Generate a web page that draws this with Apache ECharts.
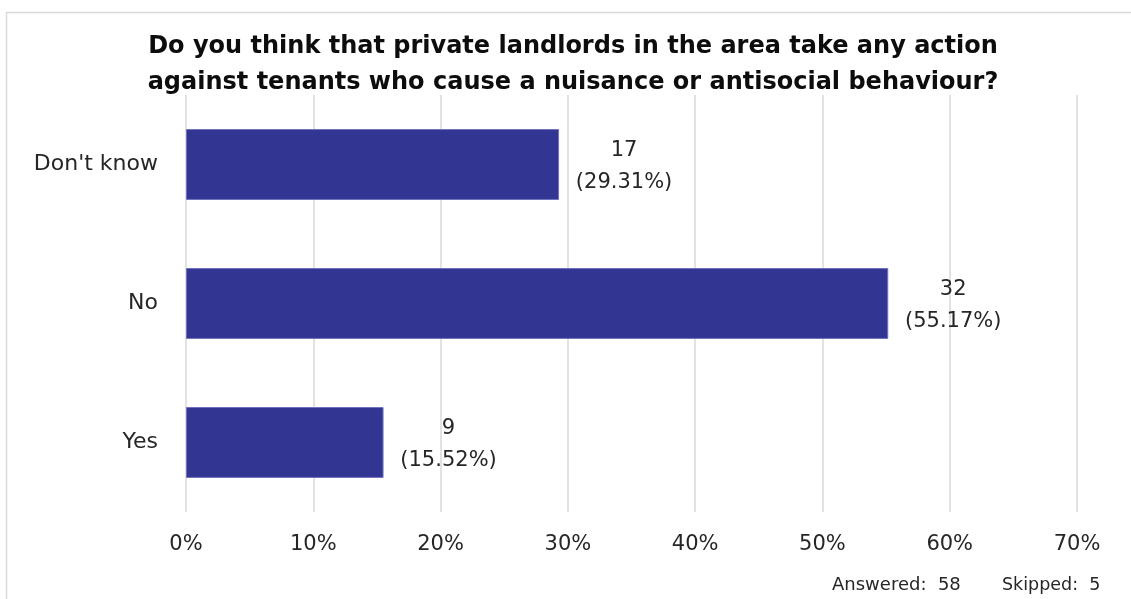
<!DOCTYPE html>
<html><head><meta charset="utf-8">
<script src="https://cdn.jsdelivr.net/npm/echarts@6/dist/echarts.min.js"></script>
<style>html,body{margin:0;padding:0;background:#fff}#c{width:1131px;height:599px}</style>
</head><body><div id="c"></div>
<script>
const titleLines = ["Do you think that private landlords in the area take any action", "against tenants who cause a nuisance or antisocial behaviour?"];
const categories = ["Yes", "No", "Don't know"];
const counts = [9, 32, 17];
const percents = [15.52, 55.17, 29.31];
const xTicks = [0, 10, 20, 30, 40, 50, 60, 70];
const answered = 58;
const skipped = 5;

const FONT = "DejaVu Sans";
const chart = echarts.init(document.getElementById('c'), null, {renderer: 'canvas'});
chart.setOption({
  backgroundColor: '#fff',
  animation: false,
  graphic: [
    {type: 'rect', left: 4, top: 10, shape: {width: 1140, height: 600}, style: {fill: 'none', stroke: '#d9d9d9', lineWidth: 1.5}, z: -1},
    {type: 'text', x: 573, y: 29, style: {text: titleLines.join('\n'), textAlign: 'center', textVerticalAlign: 'top',
      fontFamily: FONT, fontWeight: 'bold', fontSize: 24, lineHeight: 36, fill: '#0d0d0d'}},
    {type: 'text', left: 832, top: 576, style: {text: 'Answered:  ' + answered, font: '18px "DejaVu Sans"', fill: '#262626'}},
    {type: 'text', left: 1002, top: 576, style: {text: 'Skipped:  ' + skipped, font: '17.5px "DejaVu Sans"', fill: '#262626'}}
  ],
  grid: {left: 186, right: 54, top: 95, bottom: 87, containLabel: false},
  xAxis: {
    type: 'value', min: xTicks[0], max: xTicks[xTicks.length - 1], interval: 10,
    axisLine: {show: false}, axisTick: {show: false},
    splitLine: {show: true, lineStyle: {color: '#d9d9d9', width: 1.5}},
    axisLabel: {formatter: v => v + '%', fontFamily: FONT, fontSize: 21, color: '#262626', margin: 22}
  },
  yAxis: {
    type: 'category', data: categories,
    axisLine: {show: false}, axisTick: {show: false},
    axisLabel: {fontFamily: FONT, fontSize: 22, color: '#262626', margin: 28}
  },
  series: [{
    type: 'bar',
    data: percents,
    barCategoryGap: '49%',
    itemStyle: {color: '#323592', borderColor: '#6f72bb', borderWidth: 1},
    label: {
      show: true, position: 'right', distance: 0, align: 'center', offset: [65, 2],
      formatter: p => counts[p.dataIndex] + '\n(' + percents[p.dataIndex].toFixed(2) + '%)',
      fontFamily: FONT, fontSize: 21, lineHeight: 32, color: '#262626'
    }
  }]
});
</script></body></html>
